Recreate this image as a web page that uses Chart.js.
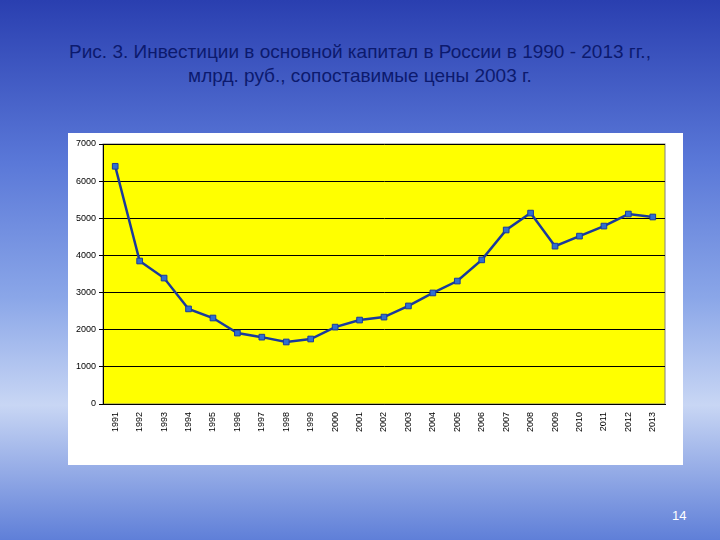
<!DOCTYPE html>
<html>
<head>
<meta charset="utf-8">
<script src="https://cdn.jsdelivr.net/npm/chart.js@4/dist/chart.umd.min.js"></script>
<style>
  body { margin: 0; width: 720px; height: 540px; overflow: hidden; font-family: "Liberation Sans", Arial, sans-serif;
    background: linear-gradient(180deg, #2a3fb0 0%, #5a78d8 30%, #8aa6e8 55%, #c8d6f4 75%, #5f7fd8 100%); position: relative; }
  #title { position: absolute; left: 0; top: 40px; width: 720px; text-align: center; color: #0c1a6e; font-size: 19px; line-height: 24px; }
  #box { position: absolute; left: 68px; top: 133px; width: 615px; height: 332px; background: #fff; }
  #num { position: absolute; left: 672px; top: 508px; color: #fff; font-size: 13px; }
</style>
</head>
<body>
<div id="title">Рис. 3. Инвестиции в основной капитал в России в 1990 - 2013 гг.,<br>млрд. руб., сопоставимые цены 2003 г.</div>
<div id="box"><canvas id="c" width="615" height="332"></canvas></div>
<div id="num">14</div>
<script>
const years = ['1991','1992','1993','1994','1995','1996','1997','1998','1999','2000','2001','2002',
  '2003','2004','2005','2006','2007','2008','2009','2010','2011','2012','2013'];
const investment = [6400, 3850, 3390, 2560, 2315, 1910, 1800, 1670, 1750, 2070, 2260, 2340,
  2640, 2990, 3310, 3880, 4685, 5140, 4250, 4520, 4790, 5115, 5035];
const yTicks = [0, 1000, 2000, 3000, 4000, 5000, 6000, 7000];

const yellowBg = {
  id: 'yellowBg',
  beforeDraw(chart) {
    const a = chart.chartArea, ctx = chart.ctx;
    ctx.save();
    ctx.fillStyle = '#ffff00';
    ctx.fillRect(a.left, a.top, a.right - a.left, a.bottom - a.top);
    ctx.strokeStyle = '#808080';
    ctx.strokeRect(a.left, a.top, a.right - a.left, a.bottom - a.top);
    ctx.restore();
  }
};

new Chart(document.getElementById('c'), {
  type: 'line',
  data: {
    labels: years,
    datasets: [{
      data: investment,
      borderColor: '#1a3a9c',
      borderWidth: 2.5,
      pointStyle: 'rect',
      pointRadius: 4,
      pointBackgroundColor: '#2f6fd0',
      pointBorderColor: '#1a3a9c',
      pointBorderWidth: 1,
      tension: 0
    }]
  },
  options: {
    responsive: false,
    animation: false,
    layout: { padding: { left: 0, right: 18, top: 11, bottom: 0 } },
    plugins: { legend: { display: false }, tooltip: { enabled: false } },
    scales: {
      x: {
        offset: true,
        grid: { display: false },
        border: { color: '#000' },
        ticks: { color: '#000', padding: 0, font: { size: 9, family: 'Liberation Sans' }, minRotation: 90, maxRotation: 90, autoSkip: false },
        afterFit(s) { s.height = 61; }
      },
      y: {
        min: 0, max: 7000,
        afterBuildTicks(s) { s.ticks = yTicks.map(v => ({ value: v })); },
        grid: { color: '#000', drawTicks: true, tickLength: 4 },
        border: { color: '#000' },
        ticks: { color: '#000', font: { size: 9, family: 'Liberation Sans' }, callback: v => String(v) },
        afterFit(s) { s.width = 35; }
      }
    }
  },
  plugins: [yellowBg]
});
</script>
</body>
</html>
